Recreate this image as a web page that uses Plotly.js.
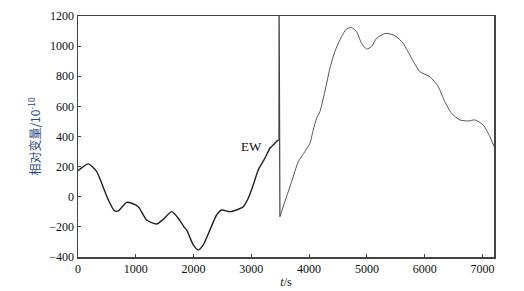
<!DOCTYPE html>
<html><head><meta charset="utf-8">
<script src="https://cdn.plot.ly/plotly-3.0.1.min.js"></script>
<style>html,body{margin:0;padding:0;background:#fff}#chart{width:524px;height:291px}</style>
</head><body><div id="chart"></div>
<script>
// Before the event (black, noisy part)
const tBefore = [0,17,179,323,410,525,629,698,842,929,1044,1188,1361,1476,1621,1736,1840,1880,1996,2082,2168,2284,2399,2486,2630,2774,2860,2947,3033,3119,3235,3322,3437,3466];
const vBefore = [172,178,218,167,90,-21,-92,-94,-37,-43,-66,-154,-181,-150,-99,-143,-203,-220,-320,-353,-320,-220,-121,-88,-99,-83,-66,-10,78,178,256,322,366,377];
// The spike at the event
const tSpike = [3466,3478,3480,3482,3495];
const vSpike = [377,370,1400,289,-132];
// After the event (grey part)
const tAfter = [3495,3581,3697,3813,3927,4014,4071,4130,4187,4273,4360,4446,4561,4648,4735,4821,4908,4994,5081,5168,5282,5341,5484,5628,5773,5917,6090,6234,6349,6465,6609,6753,6869,7012,7128,7200];
const vAfter = [-132,-32,100,233,300,355,443,521,565,698,853,964,1063,1114,1123,1096,1019,981,997,1052,1079,1085,1070,1019,920,831,797,731,632,554,510,503,510,477,399,333];
const xTicks = [0,1000,2000,3000,4000,5000,6000,7000];
const yTicks = [-400,-200,0,200,400,600,800,1000,1200];
const label = "EW";

const data = [
  {x:tBefore, y:vBefore, mode:'lines', line:{color:'#222', width:1.4, shape:'spline', smoothing:0.6}, hoverinfo:'none'},
  {x:tSpike, y:vSpike, mode:'lines', line:{color:'#444', width:1.2}, hoverinfo:'none'},
  {x:tAfter, y:vAfter, mode:'lines', line:{color:'#555', width:1, shape:'spline', smoothing:0.6}, hoverinfo:'none'}
];
const serif = 'Liberation Serif, Times New Roman, serif';
const layout = {
  width:524, height:291,
  margin:{l:78, r:30, t:16, b:34},
  paper_bgcolor:'#fff', plot_bgcolor:'#fff',
  showlegend:false,
  font:{family:serif, size:12, color:'#111'},
  xaxis:{range:[0,7200], tickvals:xTicks, ticks:'inside', ticklen:3, tickcolor:'#444',
    showgrid:false, zeroline:false, showline:true, linecolor:'#444', linewidth:1.5, mirror:true,
    tickfont:{family:serif, size:12, color:'#111'},
    title:{text:'<i>t</i>/s', standoff:2, font:{family:serif, size:12, color:'#111'}}},
  yaxis:{range:[-400,1200], tickvals:yTicks, ticks:'inside', ticklen:3, tickcolor:'#444',
    showgrid:false, zeroline:false, showline:true, linecolor:'#444', linewidth:1.5, mirror:true,
    tickfont:{family:serif, size:12, color:'#111'},
    title:{text:'相对变量/10<sup>-10</sup>', standoff:6, font:{family:'Noto Sans CJK SC, serif', size:12, color:'#2b4a80'}}},
  annotations:[{x:2995, y:334, text:label, showarrow:false, font:{family:serif, size:13, color:'#111'}}]
};
Plotly.newPlot('chart', data, layout, {displayModeBar:false, staticPlot:true});
</script></body></html>
